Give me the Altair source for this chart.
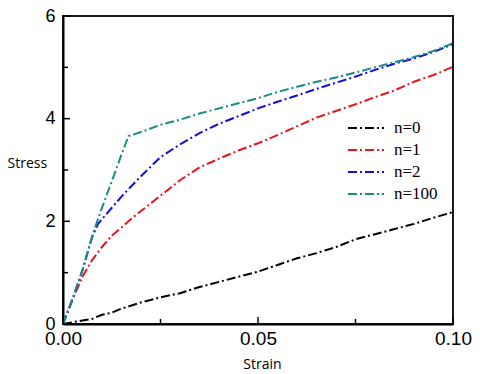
import altair as alt
import pandas as pd

# n=0
s0 = [0, 0.005, 0.0075, 0.01, 0.0125, 0.015, 0.02, 0.025, 0.03, 0.035, 0.04, 0.045, 0.05, 0.055, 0.06, 0.065, 0.07, 0.075, 0.08, 0.085, 0.09, 0.095, 0.1]
y0 = [0, 0.07, 0.1, 0.18, 0.22, 0.3, 0.42, 0.52, 0.6, 0.72, 0.82, 0.92, 1.02, 1.15, 1.28, 1.38, 1.5, 1.65, 1.75, 1.85, 1.95, 2.07, 2.18]
# n=1
s1 = [0, 0.0025, 0.005, 0.0075, 0.01, 0.0125, 0.015, 0.0175, 0.02, 0.025, 0.0275, 0.03, 0.035, 0.04, 0.045, 0.05, 0.055, 0.06, 0.065, 0.07, 0.075, 0.08, 0.085, 0.09, 0.095, 0.1]
y1 = [0, 0.48, 0.92, 1.25, 1.5, 1.72, 1.88, 2.05, 2.2, 2.5, 2.65, 2.8, 3.05, 3.22, 3.38, 3.52, 3.68, 3.85, 4.02, 4.15, 4.28, 4.42, 4.55, 4.72, 4.85, 5.01]
# n=2
s2 = [0, 0.0025, 0.005, 0.0075, 0.009, 0.012, 0.015, 0.0172, 0.02, 0.025, 0.03, 0.035, 0.04, 0.045, 0.05, 0.055, 0.06, 0.065, 0.07, 0.075, 0.08, 0.085, 0.09, 0.095, 0.1]
y2 = [0, 0.5, 1.05, 1.7, 1.95, 2.22, 2.48, 2.66, 2.88, 3.25, 3.5, 3.72, 3.9, 4.05, 4.2, 4.33, 4.45, 4.58, 4.7, 4.82, 4.95, 5.07, 5.17, 5.3, 5.45]
# n=100
s3 = [0, 0.0025, 0.005, 0.0075, 0.0095, 0.0125, 0.015, 0.0168, 0.02, 0.025, 0.03, 0.035, 0.04, 0.045, 0.05, 0.055, 0.06, 0.065, 0.07, 0.075, 0.08, 0.085, 0.09, 0.095, 0.1]
y3 = [0, 0.5, 1.05, 1.72, 2.16, 2.78, 3.3, 3.66, 3.74, 3.88, 3.98, 4.1, 4.2, 4.3, 4.4, 4.52, 4.62, 4.72, 4.8, 4.9, 5.0, 5.1, 5.2, 5.32, 5.47]

labels = ["n=0", "n=1", "n=2", "n=100"]
colors = ["#000000", "#e8141c", "#1010d8", "#1a8c80"]

x_major = [0, 0.05, 0.1]
x_minor = [0.025, 0.075]
y_major = [0, 2, 4, 6]
y_minor = [1, 3, 5]
x_dom = [0, 0.1]
y_dom = [0, 6]

rows = []
for lab, ss, yy in zip(labels, [s0, s1, s2, s3], [y0, y1, y2, y3]):
    for a, b in zip(ss, yy):
        rows.append({"strain": a, "stress": b, "n": lab})
df = pd.DataFrame(rows)

W, H = 390, 308
xs = alt.Scale(domain=x_dom, nice=False)
ys = alt.Scale(domain=y_dom, nice=False)
xaxis = alt.Axis(values=x_major, format=".2f", ticks=False, grid=False, labelFlush=False,
                 labelPadding=5, titleY=40, titleX=199, titleBaseline="middle")
yaxis = alt.Axis(values=y_major, format="d", ticks=False, grid=False, labelFontSize=18,
                 labelPadding=8, titleAngle=0, titleX=-56, titleY=147,
                 titleAlign="left", titleBaseline="middle")

lines = alt.Chart(df).mark_line(strokeWidth=2, strokeDash=[9, 3, 2, 3]).encode(
    x=alt.X("strain:Q", scale=xs, title="Strain", axis=xaxis),
    y=alt.Y("stress:Q", scale=ys, title="Stress", axis=yaxis),
    color=alt.Color("n:N", scale=alt.Scale(domain=labels, range=colors),
                    legend=alt.Legend(title=None, orient="none", legendX=284, legendY=101,
                                      symbolType="stroke", symbolSize=1296,
                                      symbolStrokeWidth=2, symbolDash=[9, 3, 2, 3],
                                      clipHeight=22, rowPadding=0, labelOffset=9,
                                      labelFont="Liberation Serif",
                                      labelFontSize=17, labelColor="black")),
    order=alt.Order("strain:Q"),
)

top = alt.Chart(pd.DataFrame({"a": [x_dom[0]], "b": [x_dom[1]], "c": [y_dom[1]]})).mark_rule(
    color="#1a1a1a", strokeWidth=2).encode(
    x=alt.X("a:Q", scale=xs, axis=None), x2="b:Q", y=alt.Y("c:Q", scale=ys, axis=None))
right = alt.Chart(pd.DataFrame({"a": [y_dom[0]], "b": [y_dom[1]], "c": [x_dom[1]]})).mark_rule(
    color="#1a1a1a", strokeWidth=2).encode(
    y=alt.Y("a:Q", scale=ys, axis=None), y2="b:Q", x=alt.X("c:Q", scale=xs, axis=None))

ymaj = alt.Chart(pd.DataFrame({"v": y_major})).mark_rule(color="black", strokeWidth=1.5).encode(
    y=alt.Y("v:Q", scale=ys, axis=None), x=alt.value(0), x2=alt.value(7))
ymin = alt.Chart(pd.DataFrame({"v": y_minor})).mark_rule(color="black", strokeWidth=1.5).encode(
    y=alt.Y("v:Q", scale=ys, axis=None), x=alt.value(0), x2=alt.value(5))
xmaj = alt.Chart(pd.DataFrame({"v": x_major})).mark_rule(color="black", strokeWidth=1.5).encode(
    x=alt.X("v:Q", scale=xs, axis=None), y=alt.value(H), y2=alt.value(H - 7))
xmin = alt.Chart(pd.DataFrame({"v": x_minor})).mark_rule(color="black", strokeWidth=1.5).encode(
    x=alt.X("v:Q", scale=xs, axis=None), y=alt.value(H), y2=alt.value(H - 5))

chart = alt.layer(lines, top, right, ymaj, ymin, xmaj, xmin).resolve_axis(
    x="independent", y="independent"
).properties(
    width=W, height=H,
    background="white",
    autosize=alt.AutoSizeParams(type="none"),
    padding={"left": 55, "top": 8, "right": 19, "bottom": 50},
).configure_view(stroke="#1a1a1a", strokeWidth=2).configure_axis(
    domainColor="black", domainWidth=2,
    labelFont="Liberation Sans", labelFontSize=19, labelColor="black",
    titleFont="Open Sans", titleFontSize=14, titleFontWeight="normal", titleColor="black",
)

chart.save("out.html", embed_options={"renderer": "svg", "actions": False})
